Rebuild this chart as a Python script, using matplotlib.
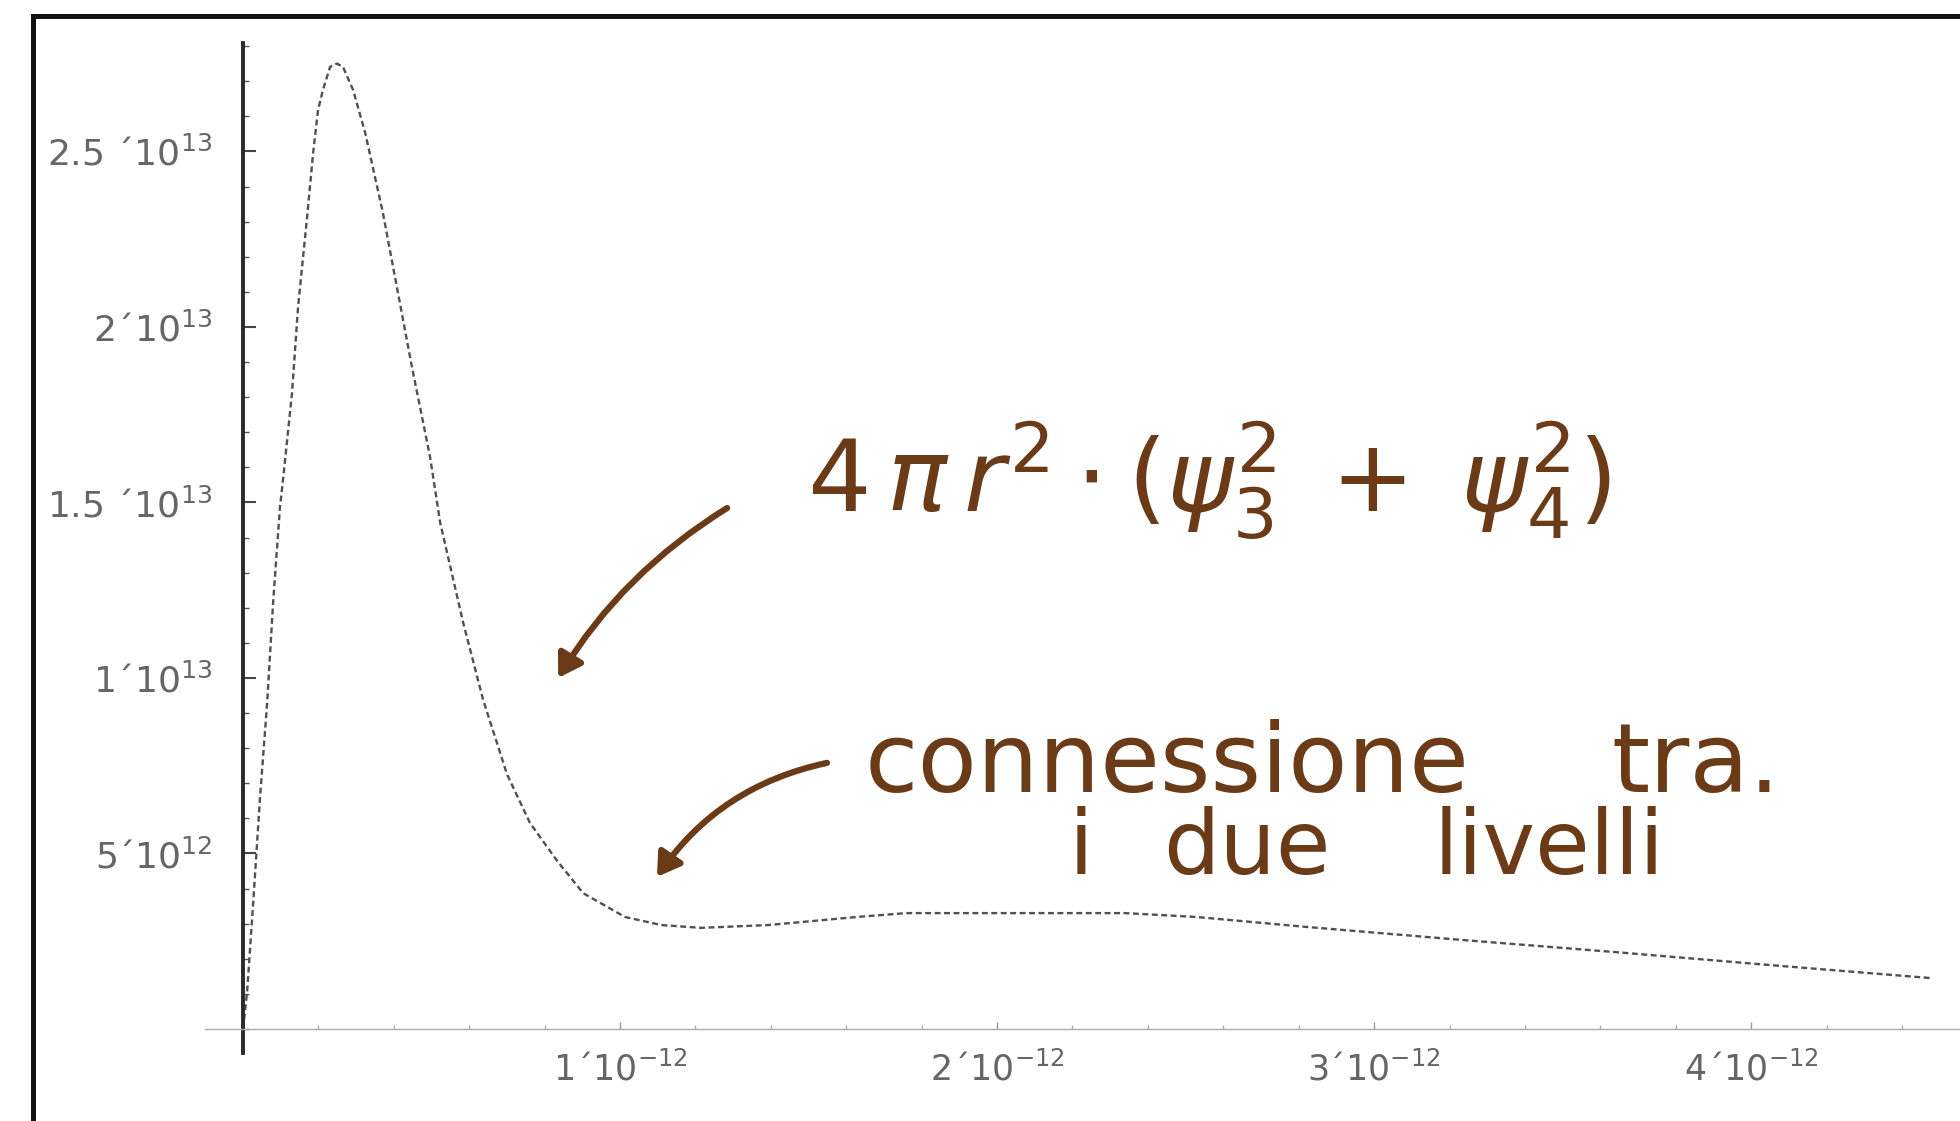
import matplotlib
matplotlib.use("Agg")
import matplotlib.pyplot as plt
from matplotlib.lines import Line2D
from matplotlib.ticker import FixedLocator, MultipleLocator, NullFormatter
import numpy as np

# radial density 4 pi r^2 (psi3^2 + psi4^2), r in metres
r = [0.0, 0.011e-12, 0.027e-12, 0.045e-12, 0.064e-12, 0.080e-12, 0.098e-12,
     0.106e-12, 0.130e-12, 0.146e-12, 0.170e-12, 0.186e-12, 0.199e-12,
     0.212e-12, 0.231e-12, 0.249e-12, 0.265e-12, 0.292e-12, 0.324e-12,
     0.371e-12, 0.408e-12, 0.448e-12, 0.496e-12, 0.523e-12, 0.584e-12,
     0.637e-12, 0.700e-12, 0.761e-12, 0.833e-12, 0.902e-12, 1.013e-12,
     1.109e-12, 1.215e-12, 1.393e-12, 1.629e-12, 1.759e-12, 2.340e-12,
     2.528e-12, 2.817e-12, 3.228e-12, 3.639e-12, 4.050e-12, 4.475e-12]
density = [0.0, 1.08e12, 3.59e12, 6.58e12, 9.29e12, 12.17e12, 14.87e12,
           15.64e12, 18.12e12, 20.57e12, 23.13e12, 24.96e12, 26.18e12,
           26.75e12, 27.41e12, 27.5e12, 27.41e12, 26.75e12, 25.53e12,
           23.25e12, 21.14e12, 18.86e12, 16.30e12, 14.42e12, 11.57e12,
           9.37e12, 7.26e12, 5.87e12, 4.79e12, 3.87e12, 3.19e12,
           2.96e12, 2.88e12, 2.96e12, 3.19e12, 3.30e12, 3.30e12,
           3.19e12, 2.91e12, 2.54e12, 2.19e12, 1.82e12, 1.45e12]

x_ticks = [1e-12, 2e-12, 3e-12, 4e-12]
x_labels = ["1\u00b410$^{-12}$", "2\u00b410$^{-12}$", "3\u00b410$^{-12}$", "4\u00b410$^{-12}$"]
y_ticks = [5e12, 1e13, 1.5e13, 2e13, 2.5e13]
y_labels = ["5\u00b410$^{12}$", "1\u00b410$^{13}$", "1.5 \u00b410$^{13}$",
            "2\u00b410$^{13}$", "2.5 \u00b410$^{13}$"]

ink = "#6b3a17"

fig = plt.figure(figsize=(19.6, 11.21), dpi=100)
ax = fig.add_axes([0.1046, 0.0607, 0.8954, 0.9010])
ax.set_facecolor("none")

ax.plot(r, density, color="#505050", lw=1.7, linestyle=(0, (2.5, 1.5)))

ax.set_xlim(-0.1008e-12, 4.554e-12)
ax.set_ylim(-0.684e12, 28.09e12)

for s in ["top", "right"]:
    ax.spines[s].set_visible(False)
ax.spines["left"].set_position(("data", 0))
ax.spines["bottom"].set_position(("data", 0))
ax.spines["left"].set_color("#2a2a2a")
ax.spines["left"].set_linewidth(2.8)
ax.spines["bottom"].set_color("#aaaaaa")
ax.spines["bottom"].set_linewidth(1.0)

ax.xaxis.set_major_locator(FixedLocator(x_ticks))
ax.set_xticklabels(x_labels)
ax.xaxis.set_minor_locator(MultipleLocator(0.2e-12))
ax.xaxis.set_minor_formatter(NullFormatter())
ax.yaxis.set_major_locator(FixedLocator(y_ticks))
ax.set_yticklabels(y_labels)
ax.yaxis.set_minor_locator(MultipleLocator(1e12))
ax.yaxis.set_minor_formatter(NullFormatter())

ax.tick_params(axis="x", which="major", direction="in", length=5, width=1,
               color="#999999", pad=16, labelsize=25, labelcolor="#666666")
ax.tick_params(axis="x", which="minor", direction="in", length=3, width=1,
               color="#aaaaaa")
ax.tick_params(axis="y", which="major", direction="in", length=9, width=1.5,
               color="#444444", pad=22, labelsize=26, labelcolor="#666666")
ax.tick_params(axis="y", which="minor", direction="in", length=4, width=1,
               color="#555555")

# handwritten notes
ax.text(1.496e-12, 15.6e12, r"$4\,\pi\,r^{2}\cdot(\psi_3^{2}\;+\;\psi_4^{2})$",
        color=ink, fontsize=72, ha="left", va="center")
note_words = [("connessione", 1.650e-12, 7.5e12, 70),
              ("tra.", 3.629e-12, 7.5e12, 70),
              ("i", 2.191e-12, 5.1e12, 64),
              ("due", 2.440e-12, 5.1e12, 64),
              ("livelli", 3.159e-12, 5.1e12, 64)]
for word, wx, wy, fs in note_words:
    ax.text(wx, wy, word, color=ink, fontsize=fs, ha="left", va="center")

arrow = dict(arrowstyle="-|>,head_length=0.45,head_width=0.28", color=ink,
             lw=4.5, mutation_scale=30, shrinkA=0, shrinkB=0)
ax.annotate("", xy=(0.836e-12, 10.0e12), xytext=(1.284e-12, 14.84e12),
            arrowprops=dict(arrow, connectionstyle="arc3,rad=0.12"))
ax.annotate("", xy=(1.098e-12, 4.33e12), xytext=(1.549e-12, 7.58e12),
            arrowprops=dict(arrow, connectionstyle="arc3,rad=0.2"))

# outer frame, only the top and left sides fall inside the image
fig.add_artist(Line2D([0.0168, 0.0168], [0.0, 0.9857], transform=fig.transFigure,
                      color="#111111", lw=3.6))
fig.add_artist(Line2D([0.0168, 1.0], [0.9857, 0.9857], transform=fig.transFigure,
                      color="#111111", lw=3.6))

fig.savefig("out.png", dpi=100, facecolor="white")
